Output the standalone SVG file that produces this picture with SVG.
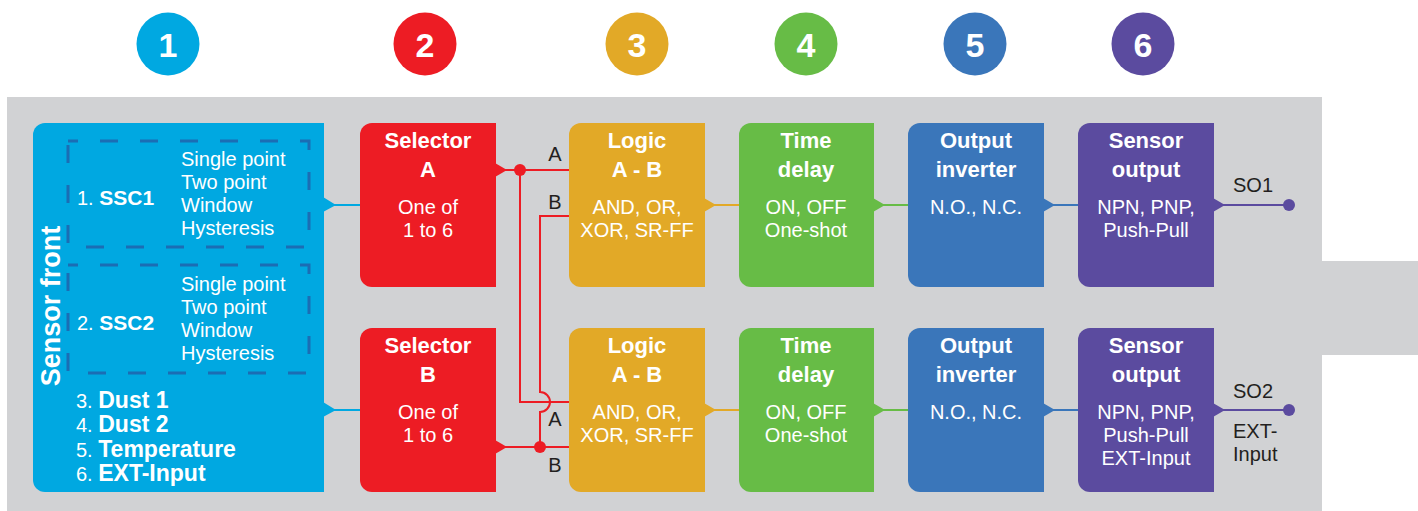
<svg xmlns="http://www.w3.org/2000/svg" width="1418" height="511" viewBox="0 0 1418 511">
  <style>
    .t { font-family: "Liberation Sans", Arial, sans-serif; fill: #ffffff; }
    .h { font-size: 22px; font-weight: bold; text-anchor: middle; }
    .b { font-size: 20px; text-anchor: middle; }
    .l { font-size: 20px; }
    .bold { font-weight: bold; }
    .big { font-size: 23px; }
    .dark { font-family: "Liberation Sans", Arial, sans-serif; font-size: 20px; fill: #231f20; }
    .num { font-family: "Liberation Sans", Arial, sans-serif; font-size: 34px; font-weight: bold; fill: #ffffff; text-anchor: middle; }
    .dash { fill: none; stroke: #1b6db4; stroke-width: 3; stroke-dasharray: 18 22; stroke-dashoffset: 8; }
    .wire { fill: none; stroke-width: 2; }
  </style>

  <!-- page backdrop -->
  <rect x="0" y="0" width="1418" height="511" fill="#ffffff"/>
  <path d="M7,97 H1322 V261 H1418 V355 H1322 V511 H7 Z" fill="#d1d2d4"/>

  <!-- stage numbers -->
  <g id="stage-numbers">
    <circle cx="168" cy="44" r="31.5" fill="#00a8e1"/>
    <text class="num" x="168" y="57">1</text>
    <circle cx="425" cy="44" r="31.5" fill="#ed1c24"/>
    <text class="num" x="425" y="57">2</text>
    <circle cx="637" cy="44" r="31.5" fill="#e2a927"/>
    <text class="num" x="637" y="57">3</text>
    <circle cx="806" cy="44" r="31.5" fill="#67bc46"/>
    <text class="num" x="806" y="57">4</text>
    <circle cx="975" cy="44" r="31.5" fill="#3a76ba"/>
    <text class="num" x="975" y="57">5</text>
    <circle cx="1143" cy="44" r="31.5" fill="#5b4b9f"/>
    <text class="num" x="1143" y="57">6</text>
  </g>

  <!-- connectors -->
  <g id="connectors">
    <!-- sensor front to selectors -->
    <polygon points="323,197 336,205 323,212" fill="#00a8e1"/>
    <line class="wire" x1="330" y1="205" x2="361" y2="205" stroke="#00a8e1"/>
    <polygon points="323,402 336,410 323,417" fill="#00a8e1"/>
    <line class="wire" x1="330" y1="410" x2="361" y2="410" stroke="#00a8e1"/>

    <!-- selector A fan-out -->
    <polygon points="495,163 507,170 495,177" fill="#ed1c24"/>
    <line class="wire" x1="500" y1="170" x2="570" y2="170" stroke="#ed1c24"/>
    <circle cx="520" cy="170" r="6" fill="#ed1c24"/>
    <path class="wire" d="M520,170 V402 H570" stroke="#ed1c24"/>

    <!-- selector B fan-out, hopping over the A wire -->
    <polygon points="495,440 507,447 495,454" fill="#ed1c24"/>
    <line class="wire" x1="500" y1="447" x2="570" y2="447" stroke="#ed1c24"/>
    <circle cx="540" cy="447" r="6" fill="#ed1c24"/>
    <path class="wire" d="M540,447 V412 A10,10 0 0 0 540,392 V216 H570" stroke="#ed1c24"/>

    <!-- logic to time delay -->
    <polygon points="704,198 716,205 704,212" fill="#e2a927"/>
    <line class="wire" x1="710" y1="205" x2="740" y2="205" stroke="#e2a927"/>
    <polygon points="704,403 716,410 704,417" fill="#e2a927"/>
    <line class="wire" x1="710" y1="410" x2="740" y2="410" stroke="#e2a927"/>

    <!-- time delay to output inverter -->
    <polygon points="873,198 885,205 873,212" fill="#67bc46"/>
    <line class="wire" x1="880" y1="205" x2="909" y2="205" stroke="#67bc46"/>
    <polygon points="873,403 885,410 873,417" fill="#67bc46"/>
    <line class="wire" x1="880" y1="410" x2="909" y2="410" stroke="#67bc46"/>

    <!-- output inverter to sensor output -->
    <polygon points="1043,198 1055,205 1043,212" fill="#3a76ba"/>
    <line class="wire" x1="1050" y1="205" x2="1079" y2="205" stroke="#3a76ba"/>
    <polygon points="1043,403 1055,410 1043,417" fill="#3a76ba"/>
    <line class="wire" x1="1050" y1="410" x2="1079" y2="410" stroke="#3a76ba"/>

    <!-- sensor outputs to terminals -->
    <polygon points="1213,198 1225,205 1213,212" fill="#5b4b9f"/>
    <line class="wire" x1="1220" y1="205" x2="1289" y2="205" stroke="#5b4b9f"/>
    <circle cx="1289" cy="205" r="6" fill="#5b4b9f"/>
    <polygon points="1213,403 1225,410 1213,417" fill="#5b4b9f"/>
    <line class="wire" x1="1220" y1="410" x2="1289" y2="410" stroke="#5b4b9f"/>
    <circle cx="1289" cy="410" r="6" fill="#5b4b9f"/>

    <!-- wire labels -->
    <text class="dark" x="555" y="161" text-anchor="middle">A</text>
    <text class="dark" x="555" y="209" text-anchor="middle">B</text>
    <text class="dark" x="555" y="426" text-anchor="middle">A</text>
    <text class="dark" x="555" y="472" text-anchor="middle">B</text>
    <text class="dark" x="1233" y="192">SO1</text>
    <text class="dark" x="1233" y="398">SO2</text>
    <text class="dark" x="1233" y="438">EXT-</text>
    <text class="dark" x="1233" y="461">Input</text>
  </g>

  <!-- stage 1: sensor front -->
  <g id="sensor-front">
    <path d="M45,123 H324 V492 H45 A12,12 0 0 1 33,480 V135 A12,12 0 0 1 45,123 Z" fill="#00a8e1"/>
    <text class="t bold" font-size="27" text-anchor="middle" transform="translate(60,306) rotate(-90)">Sensor front</text>
    <g id="ssc1">
      <rect class="dash" x="68" y="141" width="241" height="106"/>
      <text class="t l" x="77" y="205">1. <tspan class="bold" font-size="21">SSC1</tspan></text>
      <text class="t l" x="181" y="166">Single point</text>
      <text class="t l" x="181" y="189">Two point</text>
      <text class="t l" x="181" y="212">Window</text>
      <text class="t l" x="181" y="235">Hysteresis</text>
    </g>
    <g id="ssc2">
      <rect class="dash" x="68" y="265" width="241" height="108"/>
      <text class="t l" x="77" y="330">2. <tspan class="bold" font-size="21">SSC2</tspan></text>
      <text class="t l" x="181" y="291">Single point</text>
      <text class="t l" x="181" y="314">Two point</text>
      <text class="t l" x="181" y="337">Window</text>
      <text class="t l" x="181" y="360">Hysteresis</text>
    </g>
    <text class="t l" x="76" y="408">3. <tspan class="bold big">Dust 1</tspan></text>
    <text class="t l" x="76" y="432">4. <tspan class="bold big">Dust 2</tspan></text>
    <text class="t l" x="76" y="457">5. <tspan class="bold big">Temperature</tspan></text>
    <text class="t l" x="76" y="481">6. <tspan class="bold big">EXT-Input</tspan></text>
  </g>

  <!-- stage 2: selectors -->
  <g id="selector-a">
    <path d="M372,123 H496 V287 H372 A12,12 0 0 1 360,275 V135 A12,12 0 0 1 372,123 Z" fill="#ed1c24"/>
    <text class="t h" x="428" y="148">Selector</text>
    <text class="t h" x="428" y="177">A</text>
    <text class="t b" x="428" y="214">One of</text>
    <text class="t b" x="428" y="237">1 to 6</text>
  </g>
  <g id="selector-b">
    <path d="M372,328 H496 V492 H372 A12,12 0 0 1 360,480 V340 A12,12 0 0 1 372,328 Z" fill="#ed1c24"/>
    <text class="t h" x="428" y="353">Selector</text>
    <text class="t h" x="428" y="382">B</text>
    <text class="t b" x="428" y="419">One of</text>
    <text class="t b" x="428" y="442">1 to 6</text>
  </g>

  <!-- stage 3: logic -->
  <g id="logic-1">
    <path d="M581,123 H705 V287 H581 A12,12 0 0 1 569,275 V135 A12,12 0 0 1 581,123 Z" fill="#e2a927"/>
    <text class="t h" x="637" y="148">Logic</text>
    <text class="t h" x="637" y="177">A - B</text>
    <text class="t b" x="637" y="214">AND, OR,</text>
    <text class="t b" x="637" y="237">XOR, SR-FF</text>
  </g>
  <g id="logic-2">
    <path d="M581,328 H705 V492 H581 A12,12 0 0 1 569,480 V340 A12,12 0 0 1 581,328 Z" fill="#e2a927"/>
    <text class="t h" x="637" y="353">Logic</text>
    <text class="t h" x="637" y="382">A - B</text>
    <text class="t b" x="637" y="419">AND, OR,</text>
    <text class="t b" x="637" y="442">XOR, SR-FF</text>
  </g>

  <!-- stage 4: time delay -->
  <g id="time-delay-1">
    <path d="M751,123 H874 V287 H751 A12,12 0 0 1 739,275 V135 A12,12 0 0 1 751,123 Z" fill="#67bc46"/>
    <text class="t h" x="806" y="148">Time</text>
    <text class="t h" x="806" y="177">delay</text>
    <text class="t b" x="806" y="214">ON, OFF</text>
    <text class="t b" x="806" y="237">One-shot</text>
  </g>
  <g id="time-delay-2">
    <path d="M751,328 H874 V492 H751 A12,12 0 0 1 739,480 V340 A12,12 0 0 1 751,328 Z" fill="#67bc46"/>
    <text class="t h" x="806" y="353">Time</text>
    <text class="t h" x="806" y="382">delay</text>
    <text class="t b" x="806" y="419">ON, OFF</text>
    <text class="t b" x="806" y="442">One-shot</text>
  </g>

  <!-- stage 5: output inverter -->
  <g id="output-inverter-1">
    <path d="M920,123 H1044 V287 H920 A12,12 0 0 1 908,275 V135 A12,12 0 0 1 920,123 Z" fill="#3a76ba"/>
    <text class="t h" x="976" y="148">Output</text>
    <text class="t h" x="976" y="177">inverter</text>
    <text class="t b" x="976" y="214">N.O., N.C.</text>
  </g>
  <g id="output-inverter-2">
    <path d="M920,328 H1044 V492 H920 A12,12 0 0 1 908,480 V340 A12,12 0 0 1 920,328 Z" fill="#3a76ba"/>
    <text class="t h" x="976" y="353">Output</text>
    <text class="t h" x="976" y="382">inverter</text>
    <text class="t b" x="976" y="419">N.O., N.C.</text>
  </g>

  <!-- stage 6: sensor output -->
  <g id="sensor-output-1">
    <path d="M1090,123 H1214 V287 H1090 A12,12 0 0 1 1078,275 V135 A12,12 0 0 1 1090,123 Z" fill="#5b4b9f"/>
    <text class="t h" x="1146" y="148">Sensor</text>
    <text class="t h" x="1146" y="177">output</text>
    <text class="t b" x="1146" y="214">NPN, PNP,</text>
    <text class="t b" x="1146" y="237">Push-Pull</text>
  </g>
  <g id="sensor-output-2">
    <path d="M1090,328 H1214 V492 H1090 A12,12 0 0 1 1078,480 V340 A12,12 0 0 1 1090,328 Z" fill="#5b4b9f"/>
    <text class="t h" x="1146" y="353">Sensor</text>
    <text class="t h" x="1146" y="382">output</text>
    <text class="t b" x="1146" y="419">NPN, PNP,</text>
    <text class="t b" x="1146" y="442">Push-Pull</text>
    <text class="t b" x="1146" y="465">EXT-Input</text>
  </g>
</svg>
